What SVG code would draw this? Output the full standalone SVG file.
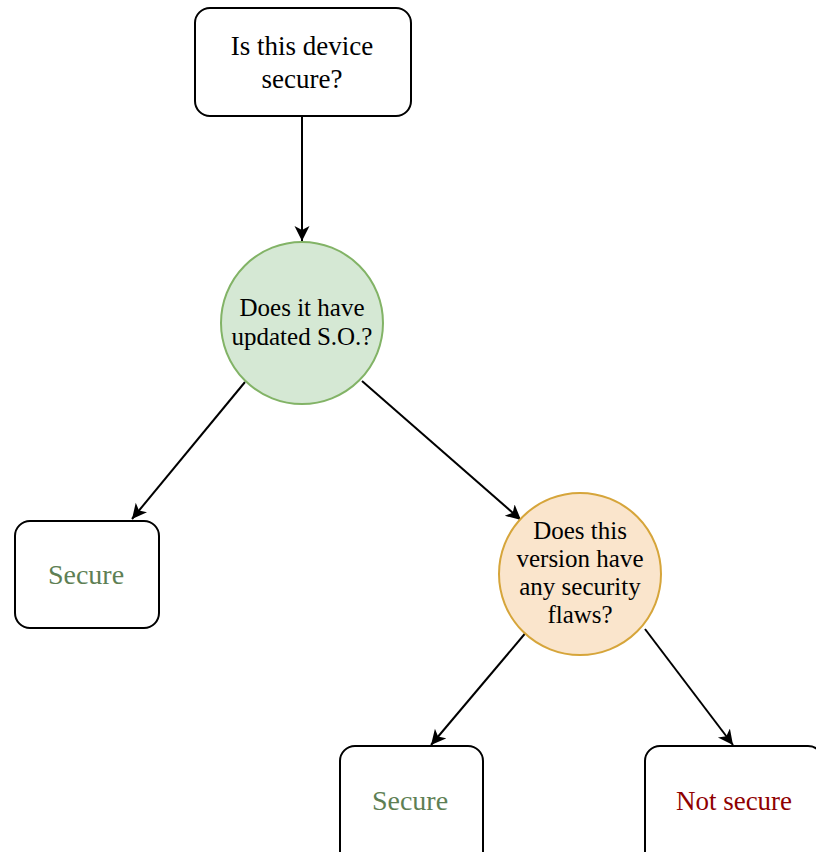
<svg xmlns="http://www.w3.org/2000/svg" width="816" height="852" viewBox="0 0 816 852">
  <style>
    .box { fill: #ffffff; stroke: #000000; stroke-width: 2; }
    .q-green { fill: #d5e8d4; stroke: #82b366; stroke-width: 2; }
    .q-orange { fill: #fae5cc; stroke: #d6a53a; stroke-width: 2; }
    .label { font-family: "Liberation Serif", "Times New Roman", serif; font-size: 25px; text-anchor: middle; fill: #000000; }
    .big { font-size: 27px; }
    .ok { fill: #5e7f54; font-size: 28px; }
    .bad { fill: #8f0000; font-size: 27px; }
    .edge { stroke: #000000; stroke-width: 2; fill: none; marker-end: url(#arrow); }
  </style>
  <defs>
    <marker id="arrow" markerUnits="userSpaceOnUse" markerWidth="17" markerHeight="16" refX="15" refY="7.5" orient="auto">
      <path d="M0,0 L15,7.5 L0,15 L4,7.5 Z" fill="#000000"/>
    </marker>
  </defs>
  <rect width="816" height="852" fill="#ffffff"/>

  <g id="connectors">
    <line class="edge" x1="302" y1="116" x2="302" y2="241"/>
    <line class="edge" x1="245" y1="382" x2="132" y2="519"/>
    <line class="edge" x1="362" y1="381" x2="521" y2="520"/>
    <line class="edge" x1="528" y1="630" x2="431" y2="745"/>
    <line class="edge" x1="645" y1="629" x2="733" y2="745"/>
  </g>

  <g id="start">
    <rect class="box" x="195" y="8" width="216" height="108" rx="15"/>
    <text class="label big" x="302" y="55">Is this device</text>
    <text class="label big" x="302" y="88">secure?</text>
  </g>

  <g id="q-updated">
    <circle class="q-green" cx="302" cy="323" r="81"/>
    <text class="label" x="302" y="316">Does it have</text>
    <text class="label" x="302" y="345">updated S.O.?</text>
  </g>

  <g id="secure-left">
    <rect class="box" x="15" y="521" width="144" height="107" rx="15"/>
    <text class="label ok" x="86" y="584">Secure</text>
  </g>

  <g id="q-flaws">
    <circle class="q-orange" cx="580" cy="574" r="81"/>
    <text class="label" x="580" y="539">Does this</text>
    <text class="label" x="580" y="567">version have</text>
    <text class="label" x="580" y="595">any security</text>
    <text class="label" x="580" y="623">flaws?</text>
  </g>

  <g id="secure-bottom">
    <rect class="box" x="340" y="746" width="143" height="120" rx="15"/>
    <text class="label ok" x="410" y="810">Secure</text>
  </g>

  <g id="not-secure">
    <rect class="box" x="645" y="746" width="178" height="120" rx="15"/>
    <text class="label bad" x="734" y="810">Not secure</text>
  </g>
</svg>
